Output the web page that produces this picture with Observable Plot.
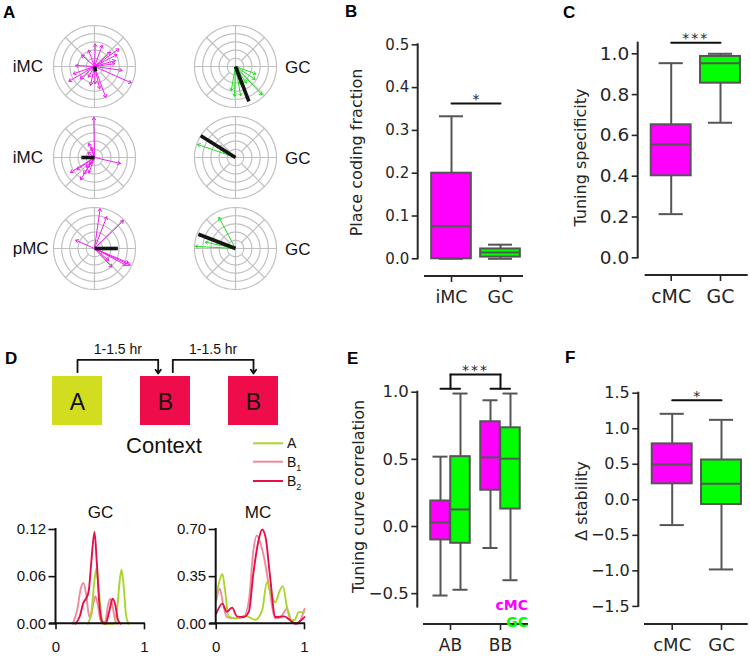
<!DOCTYPE html>
<html><head><meta charset="utf-8">
<script src="https://cdn.jsdelivr.net/npm/d3@7"></script>
<script src="https://cdn.jsdelivr.net/npm/@observablehq/plot@0.6"></script>
<style>
html,body{margin:0;padding:0;background:#fff;}
#fig{position:relative;width:750px;height:657px;overflow:hidden;background:#fff;}
#fig > svg{position:absolute;}
</style></head><body><div id="fig"></div>
<script>
// ================= DATA =================
// Panel A: polar tuning vectors, [angle in degrees, length relative to outer ring]
const polarLabels = ["iMC", "iMC", "pMC", "GC", "GC", "GC"];
const polarGroups = ["MC", "MC", "MC", "GC", "GC", "GC"];
const ringRadii = [0.2, 0.4, 0.6, 0.8, 1.0];
const spokeAngles = [0, 45, 90, 135, 180, 225, 270, 315];
const vecIMC1 = [[36,0.73],[42,0.52],[16,0.53],[8,0.5],[-8,0.68],[-24,0.98],[-70,0.8],[-77,0.56],[-88,0.42],[-102,0.47],[-150,0.72],[-161,0.55],[177,0.46],[138,0.42],[110,0.42],[88,0.55],[70,0.55],[-139,0.46],[28,0.62],[-120,0.3]];
const vecIMC2 = [[91,0.98],[112,0.37],[106,0.26],[-13,0.65],[-148,0.69],[-122,0.64],[-145,0.52],[-129,0.31],[-123,0.48],[-125,0.2],[143,0.2],[-110,0.4]];
const vecPMC = [[82,0.98],[69,0.83],[44,0.98],[156,0.5],[-25,0.96],[-23,0.9],[-47,0.62],[-40,0.45],[-28,0.88]];
const vecGC1 = [[-92,0.73],[-80,0.73],[-57,0.48],[-33,0.57],[-20,0.53],[-47,0.95],[-100,0.6],[-75,0.45]];
const vecGC2 = [[161,0.98],[148,0.77],[145,0.5],[152,0.35]];
const vecGC3 = [[118,0.86],[177,0.98],[168,0.75],[162,0.5]];
const polarResultants = [[-75,0.12],[180,0.32],[0,0.57],[-69,0.91],[148,1.0],[159,0.97]];

// Panel B: place coding fraction
const bCategories = ["iMC", "GC"];
const bLo = [0.0, 0.0], bQ1 = [0.0, 0.004], bMed = [0.076, 0.015], bQ3 = [0.2, 0.023], bHi = [0.333, 0.033];
const bTicks = [0, 0.1, 0.2, 0.3, 0.4, 0.5];
const bSig = "*";

// Panel C: tuning specificity
const cCategories = ["cMC", "GC"];
const cLo = [0.214, 0.662], cQ1 = [0.402, 0.856], cMed = [0.555, 0.954], cQ3 = [0.652, 0.987], cHi = [0.954, 1.0];
const cTicks = [0, 0.2, 0.4, 0.6, 0.8, 1.0];
const cSig = "***";

// Panel D: contexts and tuning curves
const sessions = ["A", "B", "B"];
const intervalLabel = "1-1.5 hr";
const curveNames = ["A", "B1", "B2"];
const gcA  = [[0.36,0],[0.40,0.015],[0.43,0.05],[0.455,0.07],[0.48,0.048],[0.51,0.012],[0.54,0],[0.66,0],[0.69,0.018],[0.72,0.055],[0.74,0.069],[0.765,0.048],[0.79,0.012],[0.82,0]];
const gcB1 = [[0.19,0],[0.24,0.018],[0.28,0.045],[0.31,0.052],[0.34,0.038],[0.37,0.012],[0.39,0.008],[0.42,0.025],[0.445,0.035],[0.47,0.025],[0.50,0.006],[0.53,0],[0.56,0.004],[0.59,0.025],[0.615,0.032],[0.64,0.022],[0.67,0.004],[0.69,0]];
const gcB2 = [[0.22,0],[0.27,0.01],[0.31,0.027],[0.34,0.032],[0.37,0.042],[0.40,0.08],[0.435,0.117],[0.46,0.08],[0.49,0.025],[0.52,0.003],[0.56,0],[0.60,0.015],[0.64,0.032],[0.67,0.024],[0.70,0.005],[0.73,0]];
const mcA  = [[0,0.2],[0.03,0.3],[0.07,0.37],[0.10,0.25],[0.14,0.055],[0.22,0.04],[0.33,0.06],[0.44,0.03],[0.52,0.1],[0.575,0.31],[0.62,0.22],[0.67,0.16],[0.715,0.24],[0.755,0.28],[0.80,0.13],[0.845,0.025],[0.89,0.03],[0.935,0.087],[1.0,0.087]];
const mcB1 = [[0,0.17],[0.04,0.26],[0.08,0.14],[0.12,0.05],[0.22,0.04],[0.31,0.05],[0.37,0.17],[0.42,0.54],[0.46,0.655],[0.50,0.6],[0.54,0.5],[0.60,0.27],[0.67,0.04],[0.73,0.05],[0.80,0.11],[0.86,0.01],[0.92,0.0],[1.0,0.11]];
const mcB2 = [[0,0.075],[0.07,0.15],[0.12,0.09],[0.18,0.12],[0.235,0.055],[0.31,0.05],[0.37,0.09],[0.42,0.37],[0.48,0.62],[0.52,0.70],[0.56,0.64],[0.61,0.35],[0.67,0.05],[0.77,0.055],[0.84,0.025],[0.90,0.0],[0.95,0.02],[1.0,0.05]];
const gcTicks = [0, 0.06, 0.12];
const mcTicks = [0, 0.35, 0.70];

// Panel E: tuning curve correlation (boxes in order AB-cMC, AB-GC, BB-cMC, BB-GC)
const eCategories = ["AB", "BB"];
const eGroups = ["cMC", "GC"];
const eBoxCat = ["AB", "AB", "BB", "BB"];
const eBoxGroup = ["cMC", "GC", "cMC", "GC"];
const eLo = [-0.514, -0.471, -0.16, -0.40];
const eQ1 = [-0.10, -0.125, 0.27, 0.13];
const eMed = [0.03, 0.127, 0.515, 0.505];
const eQ3 = [0.19, 0.52, 0.78, 0.735];
const eHi = [0.52, 0.99, 0.94, 0.99];
const eTicks = [-0.5, 0, 0.5, 1.0];
const eSig = "***";

// Panel F: delta stability
const fCategories = ["cMC", "GC"];
const fLo = [-0.356, -0.98], fQ1 = [0.225, -0.066], fMed = [0.497, 0.225], fQ3 = [0.787, 0.56], fHi = [1.21, 1.125];
const fTicks = [-1.5, -1.0, -0.5, 0, 0.5, 1.0, 1.5];
const fSig = "*";

// colours
const groupColor = {MC: "#ff00ff", cMC: "#ff00ff", iMC: "#ff00ff", GC: "#00ff00"};
const arrowColor = {MC: "#f21ef2", GC: "#22dd22"};
const contextColor = {A: "#d3dd1f", B: "#ee0c4a"};
const curveColor = {A: "#a9d62c", B1: "#f08a9e", B2: "#e60f48"};

// ================= HELPERS =================
const fig = document.getElementById("fig");
const EDGE = "#555555", INK = "#262626";
const DEJAVU = "DejaVu Sans, sans-serif", ARIAL = "Liberation Sans, Arial, sans-serif";
function place(node, left, top) { node.style.left = left + "px"; node.style.top = top + "px"; fig.appendChild(node); }
const baseStyle = (fam) => ({background: "transparent", overflow: "visible", color: INK, fontFamily: fam, position: "absolute"});
const rad = (a) => a * Math.PI / 180;
const seg = (p, q, stroke, width) => Plot.line([p, q], {x: d => d[0], y: d => d[1], stroke, strokeWidth: width});

// overlay for free text and axis spines (appended last, on top)
const ov = d3.create("svg").attr("width", 750).attr("height", 657)
  .style("position", "absolute").style("left", "0px").style("top", "0px").style("pointer-events", "none");
function txt(s, x, y, o = {}) {
  const t = ov.append("text").attr("x", x).attr("y", y).attr("font-family", o.family || ARIAL).attr("font-size", o.size || 14)
    .attr("font-weight", o.weight || "normal").attr("fill", o.color || "#111").attr("text-anchor", o.anchor || "start").text(s);
  if (o.rotate) t.attr("transform", `rotate(${o.rotate} ${x} ${y})`);
  return t;
}
function axisLine(x1, y1, x2, y2, stroke) {
  ov.append("line").attr("x1", x1).attr("y1", y1).attr("x2", x2).attr("y2", y2)
    .attr("stroke", stroke).attr("stroke-width", 2).attr("stroke-linecap", "square");
}

function polarPanel(k, vectors, cx, cy) {
  const R = 41, S = 46, lim = S / R;
  const group = polarGroups[k];
  const ringPts = ringRadii.flatMap(r => d3.range(0, 361, 3).map(a => ({r, a})));
  const svg = Plot.plot({
    width: 2 * S, height: 2 * S, margin: 0,
    x: {domain: [-lim, lim], axis: null}, y: {domain: [-lim, lim], axis: null},
    style: baseStyle(ARIAL),
    marks: [
      Plot.line(ringPts, {x: d => d.r * Math.cos(rad(d.a)), y: d => d.r * Math.sin(rad(d.a)), z: "r", stroke: "#c0c0c0", strokeWidth: 1.2}),
      Plot.link(spokeAngles, {x1: a => (a % 90 === 0 ? 0 : ringRadii[0]) * Math.cos(rad(a)), y1: a => (a % 90 === 0 ? 0 : ringRadii[0]) * Math.sin(rad(a)),
        x2: a => Math.cos(rad(a)), y2: a => Math.sin(rad(a)), stroke: "#c0c0c0", strokeWidth: 1.2}),
      Plot.arrow(vectors, {x1: 0, y1: 0, x2: d => d[1] * Math.cos(rad(d[0])), y2: d => d[1] * Math.sin(rad(d[0])),
        stroke: arrowColor[group], strokeWidth: 1, headLength: 4.5, headAngle: 70}),
      Plot.link([polarResultants[k]], {x1: 0, y1: 0, x2: d => d[1] * Math.cos(rad(d[0])), y2: d => d[1] * Math.sin(rad(d[0])),
        stroke: "#151515", strokeWidth: 3.6})
    ]
  });
  place(svg, cx - S, cy - S);
}

function boxPanel(cfg) {
  const {L, T, Wd, Ht, spinePx, catPx, xStartPx, xEndPx, yMap, xAxisPx, frameTopPx, spineRange, ticks, cats, boxes, hw, capHw, extra, yFont, xFont} = cfg;
  const unit = catPx[1] - catPx[0];
  const toX = px => (px - catPx[0]) / unit;
  const slope = (yMap[1][1] - yMap[0][1]) / (yMap[1][0] - yMap[0][0]);
  const toY = px => yMap[0][0] + (px - yMap[0][1]) / slope;
  const yPx = v => yMap[0][1] + (v - yMap[0][0]) * slope;
  const xDom = [toX(spinePx), toX(xEndPx)];
  const yDom = [toY(xAxisPx), toY(frameTopPx)];
  const svg = Plot.plot({
    width: Wd, height: Ht,
    marginLeft: spinePx - L, marginRight: L + Wd - xEndPx, marginTop: frameTopPx - T, marginBottom: T + Ht - xAxisPx,
    x: {domain: xDom, axis: null, label: null}, y: {domain: yDom, axis: null, label: null},
    color: {type: "identity"},
    style: baseStyle(DEJAVU),
    marks: [
      Plot.ruleX(boxes, {x: "pos", y1: "lo", y2: "q1", stroke: EDGE, strokeWidth: 2}),
      Plot.ruleX(boxes, {x: "pos", y1: "q3", y2: "hi", stroke: EDGE, strokeWidth: 2}),
      Plot.ruleY(boxes, {y: "lo", x1: d => d.pos - capHw, x2: d => d.pos + capHw, stroke: EDGE, strokeWidth: 2}),
      Plot.ruleY(boxes, {y: "hi", x1: d => d.pos - capHw, x2: d => d.pos + capHw, stroke: EDGE, strokeWidth: 2}),
      Plot.rect(boxes, {x1: d => d.pos - hw, x2: d => d.pos + hw, y1: "q1", y2: "q3", fill: "fill", stroke: EDGE, strokeWidth: 2}),
      Plot.ruleY(boxes, {y: "med", x1: d => d.pos - hw, x2: d => d.pos + hw, stroke: EDGE, strokeWidth: 2}),
      Plot.axisY({ticks, tickFormat: d3.format(".1f"), tickSize: 6, tickPadding: 3, fontSize: yFont, strokeWidth: 1.6, label: null}),
      Plot.axisX({ticks: cats.map((_, i) => i), tickFormat: i => cats[i], tickSize: 6, tickPadding: 8, fontSize: xFont, strokeWidth: 1.6, label: null}),
      ...extra
    ]
  });
  d3.select(svg).selectAll("text").filter(function() { return this.textContent === "***"; }).attr("letter-spacing", "2px");
  place(svg, L, T);
  // spines (seaborn despined, offset x axis)
  axisLine(spinePx, yPx(spineRange[0]), spinePx, yPx(spineRange[1]), INK);
  axisLine(xStartPx, xAxisPx, xEndPx, xAxisPx, INK);
}

function makeBoxes(lo, q1, med, q3, hi, fills, pos) {
  return lo.map((_, i) => ({pos: pos[i], lo: lo[i], q1: q1[i], med: med[i], q3: q3[i], hi: hi[i], fill: fills[i]}));
}
function sigMarks(label, yv, x1, x2) {
  return [
    seg([x1, yv], [x2, yv], "#111", 2),
    Plot.text([label], {x: (x1 + x2) / 2, y: yv, text: d => d, dy: -4, lineAnchor: "middle", fontSize: 14, fill: INK})
  ];
}

function linePanel(cfg) {
  const {L, T, Wd, Ht, x0px, x1px, y0px, ytopPx, ymax, ticks, series, extLeftPx} = cfg;
  const svg = Plot.plot({
    width: Wd, height: Ht,
    marginLeft: x0px - L, marginRight: L + Wd - x1px, marginTop: ytopPx - T, marginBottom: T + Ht - y0px,
    x: {domain: [0, 1], axis: null, label: null}, y: {domain: [0, ymax], axis: null, label: null},
    style: baseStyle(ARIAL),
    marks: [
      ...series.map(s => Plot.line(s.data, {x: d => d[0], y: d => d[1], stroke: curveColor[s.name], strokeWidth: 1.9, curve: "monotone-x"})),
      Plot.axisY({ticks, tickFormat: d3.format(".2f"), tickSize: 7, tickPadding: 3, fontSize: 15, strokeWidth: 1.6, label: null, color: "#111"}),
      Plot.axisX({ticks: [0, 1], tickFormat: d3.format("d"), tickSize: 6, tickPadding: 12, fontSize: 15, strokeWidth: 1.6, label: null, color: "#111"})
    ]
  });
  place(svg, L, T);
  axisLine(x0px, y0px, x0px, ytopPx, "#111");
  axisLine(x0px - extLeftPx, y0px, x1px, y0px, "#111");
}

// ================= PANEL A =================
const polarVectors = [vecIMC1, vecIMC2, vecPMC, vecGC1, vecGC2, vecGC3];
const polarCenters = [[94, 66], [94, 157], [94, 248], [235, 66], [235, 157], [235, 248]];
polarVectors.forEach((v, k) => polarPanel(k, v, polarCenters[k][0], polarCenters[k][1]));

// ================= PANEL B =================
boxPanel({
  L: 340, T: 0, Wd: 190, Ht: 320, spinePx: 417.7, catPx: [451, 500], xStartPx: 425, xEndPx: 522,
  yMap: [[0, 258.3], [0.5, 44.3]], xAxisPx: 276, frameTopPx: 20, spineRange: [0, 0.5], ticks: bTicks, cats: bCategories,
  boxes: makeBoxes(bLo, bQ1, bMed, bQ3, bHi, bCategories.map(c => groupColor[c]), [0, 1]),
  hw: 0.405, capHw: 0.245, yFont: 15, xFont: 17.5,
  extra: sigMarks(bSig, 0.363, 0, 1)
});

// ================= PANEL C =================
boxPanel({
  L: 560, T: 0, Wd: 190, Ht: 320, spinePx: 637.7, catPx: [670.7, 720], xStartPx: 645.7, xEndPx: 746.7,
  yMap: [[0, 257.3], [1.0, 53.3]], xAxisPx: 275, frameTopPx: 20, spineRange: [0, 1.052], ticks: cTicks, cats: cCategories,
  boxes: makeBoxes(cLo, cQ1, cMed, cQ3, cHi, cCategories.map(c => groupColor[c]), [0, 1]),
  hw: 0.405, capHw: 0.245, yFont: 18.5, xFont: 19,
  extra: sigMarks(cSig, 1.054, 0, 1)
});

// ================= PANEL E =================
const eOffset = {cMC: -0.2, GC: 0.2};
const eBoxes = makeBoxes(eLo, eQ1, eMed, eQ3, eHi, eBoxGroup.map(g => groupColor[g]),
  eBoxCat.map((c, i) => eCategories.indexOf(c) + eOffset[eBoxGroup[i]]));
boxPanel({
  L: 340, T: 340, Wd: 200, Ht: 317, spinePx: 417.3, catPx: [450, 500], xStartPx: 424, xEndPx: 527,
  yMap: [[0, 526], [1.0, 391.7]], xAxisPx: 624, frameTopPx: 355, spineRange: [-0.6, 1.0], ticks: eTicks, cats: eCategories,
  boxes: eBoxes, hw: 0.195, capHw: 0.15, yFont: 16.5, xFont: 17,
  extra: [
    seg([0, 1.131], [1, 1.131], "#111", 2),
    seg([0, 1.025], [0, 1.131], "#111", 2),
    seg([1, 1.025], [1, 1.131], "#111", 2),
    seg([-0.2, 1.025], [0.19, 1.025], "#111", 2),
    seg([0.8, 1.025], [1.19, 1.025], "#111", 2),
    Plot.text([eSig], {x: 0.5, y: 1.131, text: d => d, dy: -4, lineAnchor: "middle", fontSize: 14, fill: INK})
  ]
});

// ================= PANEL F =================
boxPanel({
  L: 560, T: 340, Wd: 190, Ht: 317, spinePx: 638.3, catPx: [671.7, 721], xStartPx: 645, xEndPx: 746.7,
  yMap: [[0, 499.3], [1.5, 392.7]], xAxisPx: 624, frameTopPx: 360, spineRange: [-1.5, 1.5], ticks: fTicks, cats: fCategories,
  boxes: makeBoxes(fLo, fQ1, fMed, fQ3, fHi, fCategories.map(c => groupColor[c]), [0, 1]),
  hw: 0.405, capHw: 0.245, yFont: 16, xFont: 18,
  extra: sigMarks(fSig, 1.40, 0, 1)
});

// ================= PANEL D: schematic =================
{
  const L = 0, T = 330, Wd = 330, Ht = 130, c0 = 77, step = 88;
  const transitions = d3.pairs(sessions.map((s, i) => i)).map(([a, b]) => ({from: a, to: b, label: intervalLabel}));
  const off = 7.3 / step;
  const startX = t => t.from + (t.from > 0 ? off : 0);
  const endX = t => t.to - (t.to < sessions.length - 1 ? off : 0);
  const bracketPts = transitions.flatMap((t, k) => [
    {k, x: startX(t), y: 41.7}, {k, x: startX(t), y: 29.3}, {k, x: endX(t), y: 29.3}
  ]);
  const svg = Plot.plot({
    width: Wd, height: Ht, margin: 0,
    x: {domain: [(L - c0) / step, (L + Wd - c0) / step], axis: null}, y: {domain: [Ht, 0], axis: null},
    style: baseStyle(ARIAL),
    marks: [
      Plot.rect(sessions, {x1: (d, i) => i - 25 / step, x2: (d, i) => i + 25 / step, y1: 46, y2: 95, fill: d => contextColor[d]}),
      Plot.text(sessions, {x: (d, i) => i, y: 72.5, text: d => d, fontSize: 23, lineAnchor: "middle", fill: "#111"}),
      Plot.line(bracketPts, {x: "x", y: "y", z: "k", stroke: "#111", strokeWidth: 1.8}),
      Plot.arrow(transitions, {x1: endX, y1: 29.3, x2: endX, y2: 43, stroke: "#111", strokeWidth: 1.8, headLength: 7, headAngle: 70}),
      Plot.text(transitions, {x: t => (startX(t) + endX(t)) / 2, y: 19.5, text: "label", fontSize: 14, lineAnchor: "middle", fill: "#111"})
    ]
  });
  place(svg, L, T);
}

// ================= PANEL D: tuning curves =================
linePanel({L: 0, T: 500, Wd: 160, Ht: 160, x0px: 55.5, x1px: 144, y0px: 623.3, ytopPx: 529, ymax: 0.12, ticks: gcTicks, extLeftPx: 5.5,
  series: [{name: "B1", data: gcB1}, {name: "A", data: gcA}, {name: "B2", data: gcB2}]});
linePanel({L: 160, T: 500, Wd: 160, Ht: 160, x0px: 215.7, x1px: 304, y0px: 623.3, ytopPx: 529, ymax: 0.70, ticks: mcTicks, extLeftPx: 5.5,
  series: [{name: "B1", data: mcB1}, {name: "A", data: mcA}, {name: "B2", data: mcB2}]});

// ================= TEXTS =================
[["A", 3, 18], ["B", 345, 17], ["C", 563, 18], ["D", 5, 364], ["E", 347, 364], ["F", 565, 363]]
  .forEach(([s, x, y]) => txt(s, x, y, {size: 17, weight: "bold", color: "#000"}));
const polarLabelY = [72, 163, 254];
polarLabels.forEach((s, k) => {
  if (k < 3) txt(s, 12.7, polarLabelY[k], {size: 17});
  else txt(s, 285, polarLabelY[k - 3] + 0.5, {size: 17});
});
txt("Place coding fraction", 362, 152.5, {family: DEJAVU, size: 16, anchor: "middle", rotate: -90, color: INK});
txt("Tuning specificity", 586, 157.5, {family: DEJAVU, size: 16, anchor: "middle", rotate: -90, color: INK});
txt("Tuning curve correlation", 363.5, 496.5, {family: DEJAVU, size: 16, anchor: "middle", rotate: -90, color: INK});
txt("\u0394 stability", 587, 501, {family: DEJAVU, size: 16, anchor: "middle", rotate: -90, color: INK});
txt(eGroups[0], 528, 610, {family: DEJAVU, size: 14, weight: "bold", anchor: "end", color: groupColor.cMC});
txt(eGroups[1], 528, 627, {family: DEJAVU, size: 14, weight: "bold", anchor: "end", color: groupColor.GC});
txt("Context", 164, 452.5, {size: 22, anchor: "middle"});
txt("GC", 100.5, 518, {size: 17, anchor: "middle"});
txt("MC", 258, 518, {size: 17, anchor: "middle"});
const legY = [443.3, 461.7, 481];
curveNames.forEach((n, k) => {
  ov.append("line").attr("x1", 253).attr("x2", 283).attr("y1", legY[k]).attr("y2", legY[k]).attr("stroke", curveColor[n]).attr("stroke-width", 2);
  const t = txt(n[0], 287, legY[k] + 5, {size: 14});
  if (n.length > 1) t.append("tspan").attr("font-size", 9).attr("dy", 4).text(n.slice(1));
});
fig.appendChild(ov.node());
</script>
</body></html>
